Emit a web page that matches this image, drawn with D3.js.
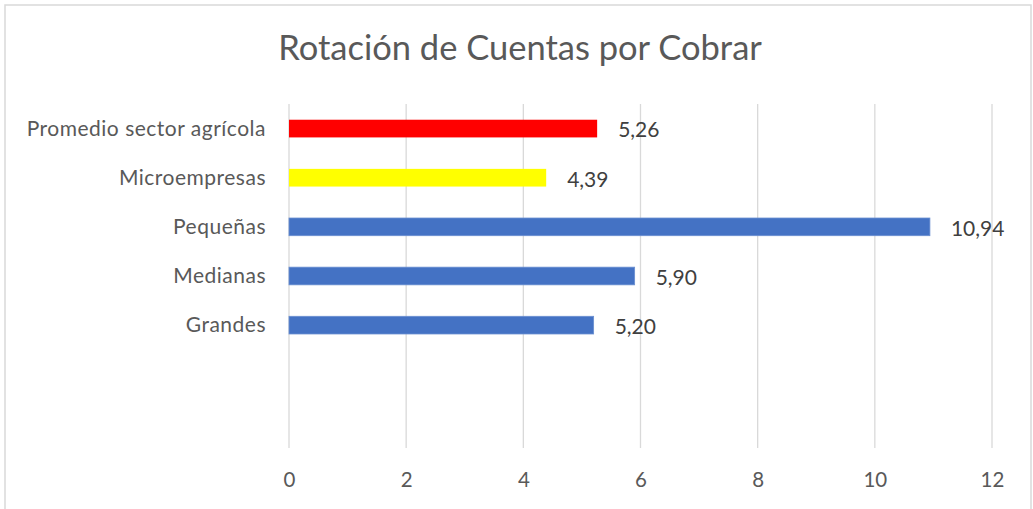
<!DOCTYPE html>
<html>
<head>
<meta charset="utf-8">
<script src="https://cdn.jsdelivr.net/npm/d3@7"></script>
<style>
  html, body { margin: 0; padding: 0; background: #fff; }
  svg { display: block; }
  text { font-family: Lato, "Open Sans", sans-serif; }
</style>
</head>
<body>
<svg id="chart" width="1033" height="509"></svg>
<script>
const title = "Rotación de Cuentas por Cobrar";
const categories = ["Promedio sector agrícola", "Microempresas", "Pequeñas", "Medianas", "Grandes", "", " "];
const values = [5.26, 4.39, 10.94, 5.90, 5.20, null, null];
const barColors = ["#FF0000", "#FFFF00", "#4472C4", "#4472C4", "#4472C4", null, null];
const xTicks = [0, 2, 4, 6, 8, 10, 12];

const W = 1033, H = 509;
const margin = { left: 289, right: 1033 - 992, top: 104, bottom: 509 - 448 };
const svg = d3.select("#chart");

// outer frame
svg.append("rect")
  .attr("x", 5).attr("y", 5)
  .attr("width", 1026).attr("height", 520)
  .attr("fill", "#fff")
  .attr("stroke", "#d9d9d9").attr("stroke-width", 1.5);

const x = d3.scaleLinear().domain([0, 12]).range([margin.left, W - margin.right]);
const y = d3.scaleBand().domain(categories).range([margin.top, H - margin.bottom]).paddingInner(0.64).paddingOuter(0.32);

// gridlines
svg.append("g").selectAll("line").data(xTicks).join("line")
  .attr("x1", d => x(d)).attr("x2", d => x(d))
  .attr("y1", margin.top).attr("y2", H - margin.bottom)
  .attr("stroke", "#d9d9d9").attr("stroke-width", 1.3);

// x tick labels
const xAxis = d3.axisBottom(x).tickValues(xTicks).tickSize(0).tickPadding(0).tickFormat(d3.format("d"));
const gx = svg.append("g").attr("transform", `translate(0,${H - margin.bottom})`).call(xAxis);
gx.select(".domain").remove();
gx.selectAll("text")
  .attr("dy", null)
  .attr("y", 39)
  .attr("fill", "#595959")
  .style("font-size", "20.5px")
  .style("font-family", "Lato, 'Open Sans', sans-serif");

// y category labels
const yAxis = d3.axisLeft(y).tickSize(0).tickPadding(23);
const gy = svg.append("g").attr("transform", `translate(${margin.left},0)`).call(yAxis);
gy.select(".domain").remove();
gy.selectAll("text")
  .attr("fill", "#595959")
  .attr("dy", "0.33em")
  .style("font-size", "21px")
  .style("letter-spacing", "0.5px")
  .style("font-family", "Lato, 'Open Sans', sans-serif");

const data = categories.map((c, i) => ({ c, v: values[i], col: barColors[i] })).filter(d => d.v !== null);

// bars
svg.append("g").selectAll("rect").data(data).join("rect")
  .attr("x", x(0))
  .attr("y", d => y(d.c))
  .attr("width", d => x(d.v) - x(0))
  .attr("height", y.bandwidth())
  .attr("fill", d => d.col)
  .attr("stroke", d => d.col === "#4472C4" ? "#6a8fd1" : "none")
  .attr("stroke-width", 0.8);

// value labels
const fmt = v => d3.format(".2f")(v).replace(".", ",");
svg.append("g").selectAll("text").data(data).join("text")
  .attr("x", d => x(d.v) + 21)
  .attr("y", d => y(d.c) + y.bandwidth() / 2 + 1.5)
  .attr("dy", "0.35em")
  .attr("fill", "#404040")
  .style("font-size", "21px")
  .text(d => fmt(d.v));

// title
svg.append("text")
  .attr("x", 520).attr("y", 60)
  .attr("text-anchor", "middle")
  .attr("fill", "#595959")
  .style("font-size", "34.5px")
  .text(title);
</script>
</body>
</html>
